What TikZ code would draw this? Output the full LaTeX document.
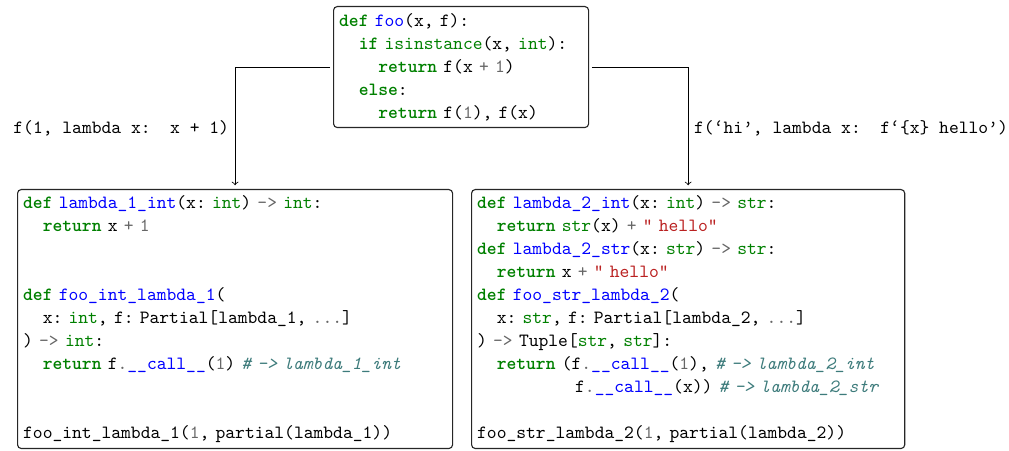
\documentclass[tikz,border=0pt]{standalone}
\usepackage{xcolor}
\definecolor{pykw}{HTML}{008000}
\definecolor{pybi}{HTML}{008000}
\definecolor{pyfn}{HTML}{0000FF}
\definecolor{pyop}{HTML}{666666}
\definecolor{pyst}{HTML}{BA2121}
\definecolor{pycm}{HTML}{3D7B7B}
% one monospace column
\newdimen\pyw \pyw=5.25pt
\newcommand\pyi[1]{\hspace*{#1\pyw}}
% make the interword space of the current font exactly one column wide
\newcommand\pyfix{\fontdimen2\font=\pyw\fontdimen3\font=0pt\fontdimen4\font=0pt\fontdimen7\font=0pt\relax}
\newcommand\pymono{\ttfamily\pyfix\frenchspacing}
% Pygments-like token colouring
\newcommand\pyk[1]{\textcolor{pykw}{\bfseries #1}}
\newcommand\pyb[1]{\textcolor{pybi}{#1}}
\newcommand\pyf[1]{\textcolor{pyfn}{#1}}
\newcommand\pyo[1]{\textcolor{pyop}{#1}}
\newcommand\pyn[1]{\textcolor{pyop}{#1}}
\newcommand\pys[1]{\textcolor{pyst}{#1}}
\newcommand\pyc[1]{\textcolor{pycm}{\itshape\pyfix #1}}
\tikzset{
  codebox/.style={draw=black!85, line width=0.6pt, rounded corners=2pt,
    align=left, anchor=north west, inner xsep=3pt, inner ysep=3pt,
    font=\fontsize{10}{12.3}\selectfont\pymono},
  flow/.style={->, line width=0.45pt, shorten >=2pt, shorten <=1.5pt},
  callnote/.style={font=\fontsize{10}{12}\selectfont\pymono, inner xsep=3pt}
}
\begin{document}
\begin{tikzpicture}[x=0.5356pt, y=-0.5356pt]
\useasboundingbox (0,0) rectangle (1009,451);

\node[codebox, text width=130.6pt, minimum width=136.6pt, minimum height=64.8pt] (foo) at (333,6) {%
\pyk{def} \pyf{foo}(x, f):\\
\pyi{2}\pyk{if} \pyb{isinstance}(x, \pyb{int}):\\
\pyi{4}\pyk{return} f(x \pyo{+} \pyn{1})\\
\pyi{2}\pyk{else}:\\
\pyi{4}\pyk{return} f(\pyn{1}), f(x)};

\node[codebox, text width=227pt, minimum width=233pt, minimum height=138.7pt] (lam1) at (17,189) {%
\pyk{def} \pyf{lambda\_1\_int}(x: \pyb{int}) \pyo{->} \pyb{int}:\\
\pyi{2}\pyk{return} x \pyo{+} \pyn{1}\\
\mbox{}\\
\mbox{}\\
\pyk{def} \pyf{foo\_int\_lambda\_1}(\\
\pyi{2}x: \pyb{int}, f: Partial[lambda\_1, \pyo{...}]\\
) \pyo{->} \pyb{int}:\\
\pyi{2}\pyk{return} f\pyo{.}\pyf{\_\_call\_\_}(\pyn{1}) \pyc{\# -> lambda\_1\_int}\\
\mbox{}\\
\mbox{}\\
foo\_int\_lambda\_1(\pyn{1}, partial(lambda\_1))};

\node[codebox, text width=226pt, minimum width=232pt, minimum height=138.7pt] (lam2) at (471,189) {%
\pyk{def} \pyf{lambda\_2\_int}(x: \pyb{int}) \pyo{->} \pyb{str}:\\
\pyi{2}\pyk{return} \pyb{str}(x) \pyo{+} \pys{" hello"}\\
\pyk{def} \pyf{lambda\_2\_str}(x: \pyb{str}) \pyo{->} \pyb{str}:\\
\pyi{2}\pyk{return} x \pyo{+} \pys{" hello"}\\
\pyk{def} \pyf{foo\_str\_lambda\_2}(\\
\pyi{2}x: \pyb{str}, f: Partial[lambda\_2, \pyo{...}]\\
) \pyo{->} Tuple[\pyb{str}, \pyb{str}]:\\
\pyi{2}\pyk{return} (f\pyo{.}\pyf{\_\_call\_\_}(\pyn{1}), \pyc{\# -> lambda\_2\_int}\\
\pyi{10}f\pyo{.}\pyf{\_\_call\_\_}(x)) \pyc{\# -> lambda\_2\_str}\\
\mbox{}\\
foo\_str\_lambda\_2(\pyn{1}, partial(lambda\_2))};

\draw[flow] (foo.west) -| node[pos=0.75, left, callnote] (c1) {f(1, lambda x:\pyi{2}x + 1)} (lam1.north);
\draw[flow] (foo.east) -| node[pos=0.75, right, callnote] (c2) {f(‘hi’, lambda x:\pyi{2}f‘\{x\} hello’)} (lam2.north);
\end{tikzpicture}
\end{document}
